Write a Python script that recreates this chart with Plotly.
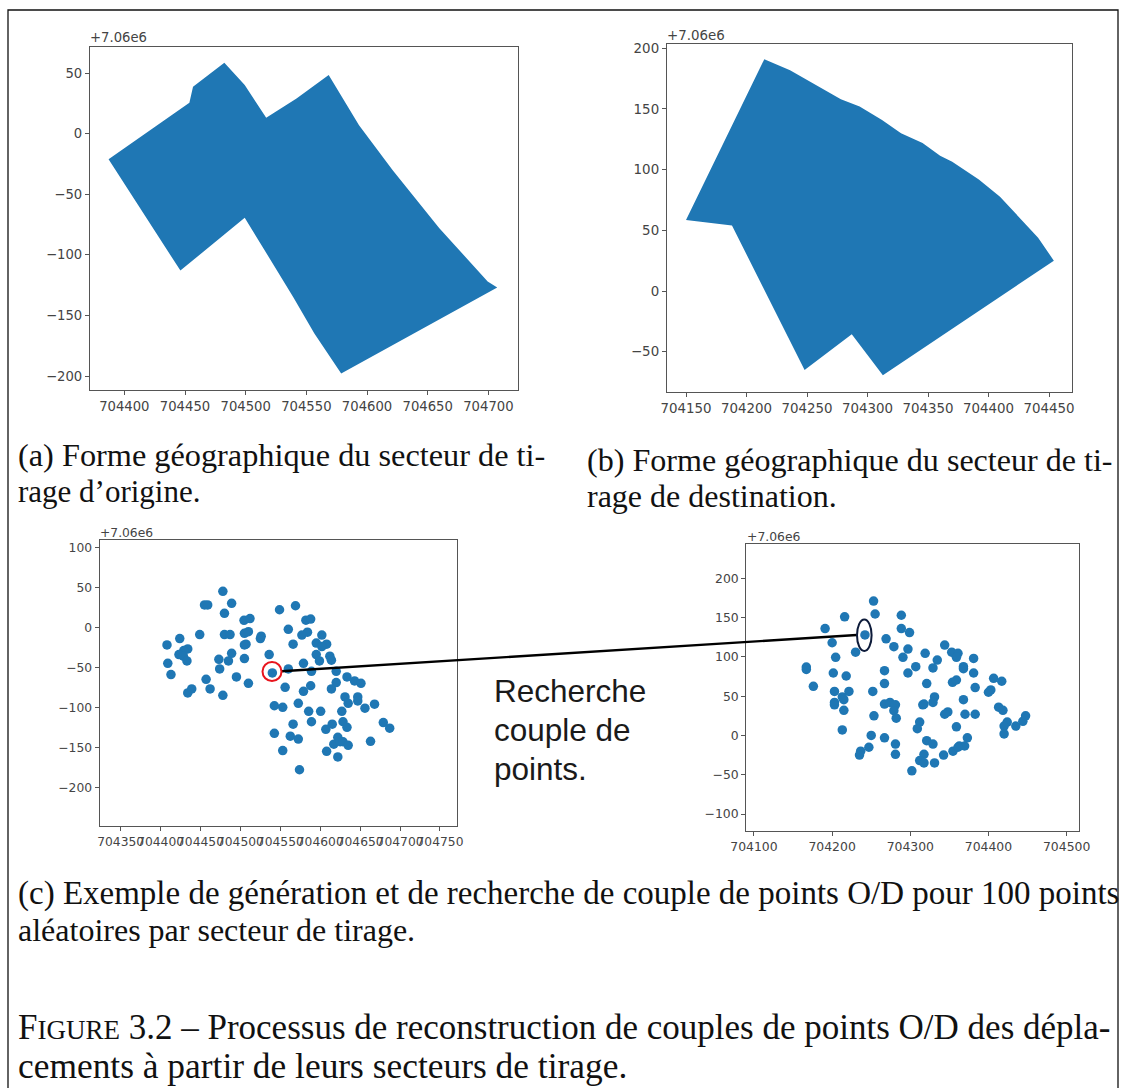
import plotly.graph_objects as go

W, H = 1125, 1088
BLUE = "#1f77b4"
TICK = "#444444"

# (a) origin sector outline
sector_a_x = [704387, 704453.6, 704456.6, 704482.4, 704499.2, 704516.9, 704541.9, 704568.4, 704593.4,
              704621, 704659.6, 704699.4, 704707.3, 704578.7, 704556.6, 704539, 704499.2, 704446.2]
sector_a_y = [-21.2, 25.5, 38.7, 58.5, 40, 13, 29, 48.4, 7, -30, -78, -122, -127, -197.8, -164.8, -134.5, -69.4, -113]

# (b) destination sector outline
sector_b_x = [704150, 704188, 704248, 704287, 704312.7, 704454, 704441, 704409.5, 704392, 704370,
              704360, 704345.5, 704327.7, 704312, 704293.5, 704278, 704236, 704214.7]
sector_b_y = [58.5, 54, -65, -35.7, -69.5, 25, 44, 77.7, 92, 106.6, 111.5, 122, 130, 141, 152, 158, 182, 191]

# (c) left: origin points
orig_x = [704408, 704424, 704449, 704434, 704429, 704423, 704428.5, 704433, 704409, 704413,
          704434, 704439, 704457, 704462, 704478, 704474, 704473, 704485, 704489, 704495,
          704505, 704510, 704505, 704507, 704505, 704510, 704480, 704487, 704504.5, 704512,
          704480, 704489, 704478, 704455, 704459, 704525, 704526, 704536, 704540, 704560,
          704549, 704569, 704582, 704588, 704560, 704584, 704577, 704566, 704602, 704595,
          704608, 704602, 704595, 704599, 704612, 704614, 704579, 704589, 704620, 704633.5,
          704643, 704651, 704620, 704614, 704588, 704579, 704556, 704631, 704635, 704647,
          704647, 704668, 704656, 704627, 704600.5, 704585.5, 704572.5, 704542.5, 704553, 704566,
          704589, 704615, 704607, 704628.5, 704633.5, 704679, 704687, 704542.5, 704562.5, 704572.5,
          704622, 704617, 704625, 704628.5, 704635, 704663, 704553, 704608, 704622, 704574]
orig_y = [-22, -14, -9, -27, -29, -34, -36, -42, -45, -59,
          -82, -77, -65, -77, -85, -52, -40, -42, -32.5, -62,
          -39, -70, -22, -21, -7.5, -5.4, -9, -9, 8.8, 11,
          17.5, 30, 45, 28, 28, -14, -11, -34, -57, -52,
          22, 27, 9, 10.4, -2.5, -6, -9.6, -21, -9.6, -19.6,
          -21, -24, -34, -42, -36, -41, -45, -55, -55, -62,
          -67, -70, -69, -77, -73, -80, -75, -87, -95, -87,
          -92, -96, -101, -105, -105, -105, -95, -98, -100, -121,
          -118, -121, -127.5, -118, -125, -119, -126, -132.5, -136, -139.6,
          -137.5, -146, -143, -143, -147.5, -142.5, -154, -155, -162, -178]

# (c) right: destination points
dest_x = [704253, 704255, 704216, 704288.5, 704288.5, 704299, 704191, 704242, 704200, 704269,
          704279, 704297, 704230, 704204.5, 704290.6, 704319, 704344, 704353, 704361, 704359,
          704334.5, 704381, 704307, 704329, 704368, 704368, 704167, 704167, 704201.5, 704297,
          704267, 704218, 704381, 704267, 704321, 704354, 704359, 704406.6, 704417, 704176,
          704383, 704403, 704400, 704203, 704221.5, 704252, 704213, 704215, 704331, 704368,
          704203, 704203, 704215, 704267, 704274, 704281, 704279, 704282, 704316, 704317.5,
          704329, 704348, 704344, 704370, 704383, 704253.5, 704312, 704309, 704359, 704213,
          704413, 704418.5, 704424, 704420, 704420, 704435, 704444, 704447.5, 704250, 704267,
          704281, 704281, 704247, 704236.5, 704235, 704321, 704329, 704317.5, 704312, 704317.5,
          704331, 704342.6, 704302, 704354.6, 704362.7, 704369.5, 704373, 704361]
dest_y = [171, 154.6, 151, 153, 136, 131, 136, 128, 118, 123,
          113, 110, 106, 99.4, 99.4, 104.5, 115, 106, 104.5, 99.4,
          96, 98, 87.6, 86, 87.6, 85, 87, 84, 79.5, 79.5,
          82.5, 75.7, 79.5, 66, 66, 67.6, 70.6, 72.7, 69, 62.5,
          61, 58, 55, 56, 56, 56, 49, 45.6, 49, 45.6,
          42, 39, 32, 40, 42, 39, 31.5, 22, 39, 40,
          42, 30, 27, 27, 27, 25, 17, 8.6, 11, 7,
          36, 32, 17, 12, 2, 12, 18, 25, 0, -3,
          -11, -24, -15, -20, -25, -6.6, -11, -24, -32, -35,
          -35, -25, -45, -20, -13.4, -13.4, -3, -15]

x_ticks_a = [704400, 704450, 704500, 704550, 704600, 704650, 704700]
y_ticks_a = [50, 0, -50, -100, -150, -200]
x_ticks_b = [704150, 704200, 704250, 704300, 704350, 704400, 704450]
y_ticks_b = [200, 150, 100, 50, 0, -50]
x_ticks_c = [704350, 704400, 704450, 704500, 704550, 704600, 704650, 704700, 704750]
y_ticks_c = [100, 50, 0, -50, -100, -150, -200]
x_ticks_d = [704100, 704200, 704300, 704400, 704500]
y_ticks_d = [200, 150, 100, 50, 0, -50, -100]

fig = go.Figure()
fig.add_trace(go.Scatter(x=sector_a_x, y=sector_a_y, fill="toself", fillcolor=BLUE, mode="lines",
                         line=dict(width=0, color=BLUE), xaxis="x", yaxis="y"))
fig.add_trace(go.Scatter(x=sector_b_x, y=sector_b_y, fill="toself", fillcolor=BLUE, mode="lines",
                         line=dict(width=0, color=BLUE), xaxis="x2", yaxis="y2"))
fig.add_trace(go.Scatter(x=orig_x, y=orig_y, mode="markers", marker=dict(color=BLUE, size=9.5),
                         xaxis="x3", yaxis="y3"))
fig.add_trace(go.Scatter(x=dest_x, y=dest_y, mode="markers", marker=dict(color=BLUE, size=9.5),
                         xaxis="x4", yaxis="y4"))


def axes(n, box, xr, yr, xt, yt, size):
    left, right, top, bottom = box
    suffix = "" if n == 1 else str(n)
    common = dict(showgrid=False, zeroline=False, showline=True, mirror=True, linecolor="#555555",
                  linewidth=1.3, ticks="outside", ticklen=4, tickwidth=1, tickcolor="#555555",
                  tickfont=dict(family="DejaVu Sans", size=size, color=TICK), tickmode="array",
                  automargin=False, tickangle=0)
    fig.layout["xaxis" + suffix] = dict(common, domain=[left / W, right / W], range=xr, tickvals=xt,
                                        ticktext=[str(v) for v in xt], anchor="y" + suffix)
    fig.layout["yaxis" + suffix] = dict(common, domain=[1 - bottom / H, 1 - top / H], range=yr, tickvals=yt,
                                        anchor="x" + suffix)


axes(1, (90, 517.5, 47.3, 390), [704371.7, 704724], [-211.5, 71.2], x_ticks_a, y_ticks_a, 13.2)
axes(2, (667, 1072, 43.7, 392), [704134.3, 704469], [-83.2, 203.8], x_ticks_b, y_ticks_b, 13.4)
axes(3, (99.7, 457.3, 540, 826), [704323.7, 704771.7], [-248.3, 109.2], x_ticks_c, y_ticks_c, 12.3)
axes(4, (746.3, 1079.3, 544, 831), [704090.2, 704516.2], [-121.6, 243.7], x_ticks_d, y_ticks_d, 12.4)


def px(x):
    return x / W


def py(y):
    return 1 - y / H


def label(x, y, text, family="Liberation Serif", size=32, color="#111111", anchor="left"):
    fig.add_annotation(x=px(x), y=py(y), xref="paper", yref="paper", text=text, showarrow=False,
                       xanchor=anchor, yanchor="middle", font=dict(family=family, size=size, color=color),
                       align="left")


for x, y, s in [(88, 38, 13.2), (665, 35, 13.4), (98, 533, 12.3), (744.5, 536, 12.4)]:
    label(x, y, "+7.06e6", family="DejaVu Sans", size=s, color=TICK)

label(16, 455, "(a) Forme géographique du secteur de ti-", size=32.3)
label(16, 492, "rage d’origine.", size=31)
label(585, 460, "(b) Forme géographique du secteur de ti-", size=32.1)
label(585, 496, "rage de destination.")
label(16, 893, "(c) Exemple de génération et de recherche de couple de points O/D pour 100 points", size=33)
label(16, 930, "aléatoires par secteur de tirage.")
label(16, 1027, "F<span style=\"font-size:27px\">IGURE</span> 3.2 – Processus de reconstruction de couples de points O/D des dépla-", size=35)
label(16, 1066, "cements à partir de leurs secteurs de tirage.", size=35.4)

label(492, 691, "Recherche", family="Liberation Sans", size=31.5, color="#1a1a1a")
label(492, 730, "couple de", family="Liberation Sans", size=31.5, color="#1a1a1a")
label(492, 769, "points.", family="Liberation Sans", size=31.5, color="#1a1a1a")

paper = dict(xref="paper", yref="paper")
shapes = [
    dict(type="rect", x0=px(8), x1=px(1118), y0=py(1095), y1=py(10), line=dict(color="#111111", width=1.3), **paper),
    dict(type="line", x0=px(281.7), y0=py(671.3), x1=px(856.7), y1=py(635), line=dict(color="#000000", width=2.4), **paper),
    dict(type="circle", x0=px(262.5), x1=px(281.5), y0=py(681), y1=py(662), line=dict(color="#e8141c", width=2), **paper),
    dict(type="circle", x0=px(857), x1=px(871.6), y0=py(651), y1=py(619.5), line=dict(color="#0d1b3a", width=2), **paper),
]
fig.update_layout(width=W, height=H, margin=dict(l=0, r=0, t=0, b=0), paper_bgcolor="white",
                  plot_bgcolor="white", showlegend=False, shapes=shapes)
fig.write_html("out.html", post_script="document.body.style.margin='0';", config={"displayModeBar": False})
